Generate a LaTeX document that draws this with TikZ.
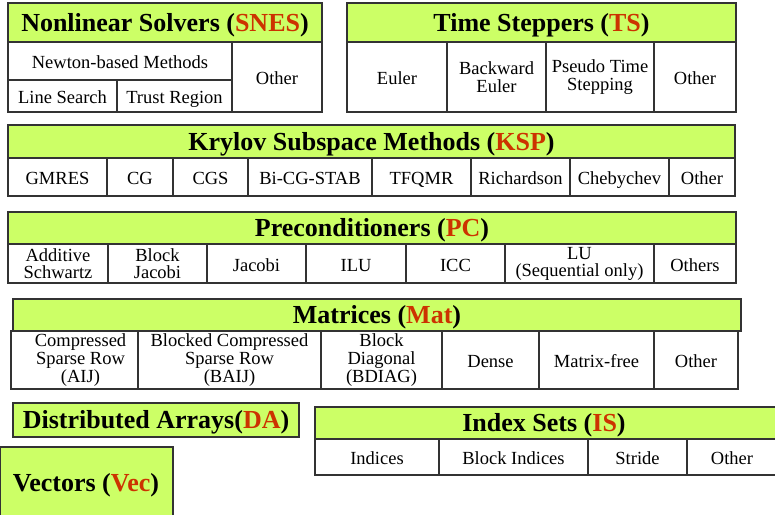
\documentclass[tikz,border=0pt]{standalone}
\usepackage{fontspec}
\setmainfont{Liberation Serif}
\definecolor{hdgreen}{RGB}{204,255,102}
\definecolor{acro}{RGB}{204,51,0}
\definecolor{edgecol}{RGB}{51,51,51}
\newcommand{\acr}[1]{\textcolor{acro}{#1}}
\newcommand{\cellat}[7][]{\node[cellbase,#1,minimum width={#4-#2},minimum height={#5-#3}] (#6) at ({(#2+#4)/2},{(#3+#5)/2}) {#7};}
\tikzset{
  cellbase/.style={rectangle,draw=edgecol,line width=1.2pt,inner sep=0pt,outer sep=0pt,align=center,fill=white,
    font=\rmfamily\fontsize{18.5}{18}\selectfont,text height=15pt,text depth=0pt},
  ml/.style={text height={},text depth={}},
  head/.style={fill=hdgreen,font=\rmfamily\bfseries\fontsize{26}{28}\selectfont,text height=20.5pt,text depth=3pt},
  tight/.style={ml,font=\rmfamily\fontsize{18.5}{17}\selectfont},
}
\begin{document}
\begin{tikzpicture}[x=1pt,y=-1pt]
\clip (0,0) rectangle (775,514);
\fill[white] (0,0) rectangle (775,514);
% SNES
\cellat[head]{8}{3}{322}{42}{snes}{Nonlinear Solvers (\acr{SNES})}
\cellat{8}{42}{232}{80}{newton}{Newton-based Methods}
\cellat{8}{80}{117}{112}{ls}{Line Search}
\cellat{117}{80}{232}{112}{tr}{Trust Region}
\cellat{232}{42}{322}{112}{snesother}{Other}
% TS
\cellat[head]{347}{3}{736}{42}{ts}{Time Steppers (\acr{TS})}
\cellat{347}{42}{447}{112}{euler}{Euler}
\cellat[ml]{447}{42}{546}{112}{beuler}{Backward\\Euler}
\cellat[ml]{546}{42}{654}{112}{pseudo}{Pseudo Time\\Stepping}
\cellat{654}{42}{736}{112}{tsother}{Other}
% KSP
\cellat[head]{8}{125}{735}{158}{ksp}{Krylov Subspace Methods (\acr{KSP})}
\cellat{8}{158}{107}{196}{gmres}{GMRES}
\cellat{107}{158}{173}{196}{cg}{CG}
\cellat{173}{158}{248}{196}{cgs}{CGS}
\cellat{248}{158}{372}{196}{bicg}{Bi-CG-STAB}
\cellat{372}{158}{471}{196}{tfqmr}{TFQMR}
\cellat{471}{158}{570}{196}{rich}{Richardson}
\cellat{570}{158}{669}{196}{cheby}{Chebychev}
\cellat{669}{158}{735}{196}{kspother}{Other}
% PC
\cellat[head]{8}{212}{736}{244}{pc}{Preconditioners (\acr{PC})}
\cellat[tight]{8}{244}{108}{283}{asm}{Additive\\Schwartz}
\cellat[tight]{108}{244}{207}{283}{bjac}{Block\\Jacobi}
\cellat{207}{244}{306}{283}{jac}{Jacobi}
\cellat{306}{244}{406}{283}{ilu}{ILU}
\cellat{406}{244}{505}{283}{icc}{ICC}
\cellat[tight]{505}{244}{654}{283}{lu}{LU\\(Sequential only)}
\cellat{654}{244}{736}{283}{pcother}{Others}
% Mat
\cellat[head]{13}{299}{741}{331}{mat}{Matrices (\acr{Mat})}
\cellat[ml]{11}{331}{138}{389}{aij}{\hspace*{12pt}Compressed\\\hspace*{12pt}Sparse Row\\\hspace*{12pt}(AIJ)}
\cellat[ml]{138}{331}{321}{389}{baij}{Blocked Compressed\\Sparse Row\\(BAIJ)}
\cellat[ml]{321}{331}{442}{389}{bdiag}{Block\\Diagonal\\(BDIAG)}
\cellat{442}{331}{539}{389}{dense}{Dense}
\cellat{539}{331}{654}{389}{mfree}{Matrix-free}
\cellat{654}{331}{738}{389}{matother}{Other}
% DA
\cellat[head]{13}{403}{299}{437}{da}{Distributed Arrays(\acr{DA})}
% IS
\cellat[head]{315}{407}{777}{439}{is}{\hspace*{-2pt}Index Sets (\acr{IS})\hspace*{2pt}}
\cellat{315}{439}{439}{475}{ind}{Indices}
\cellat{439}{439}{588}{475}{bind}{Block Indices}
\cellat{588}{439}{687}{475}{stride}{Stride}
\cellat{687}{439}{777}{475}{isother}{Other}
% Vec
\cellat[head]{0}{447}{173}{520}{vec}{}
\node[font=\rmfamily\bfseries\fontsize{26}{28}\selectfont,inner sep=0pt] (vectext) at (86,485.5) {Vectors (\acr{Vec})};
\end{tikzpicture}
\end{document}
